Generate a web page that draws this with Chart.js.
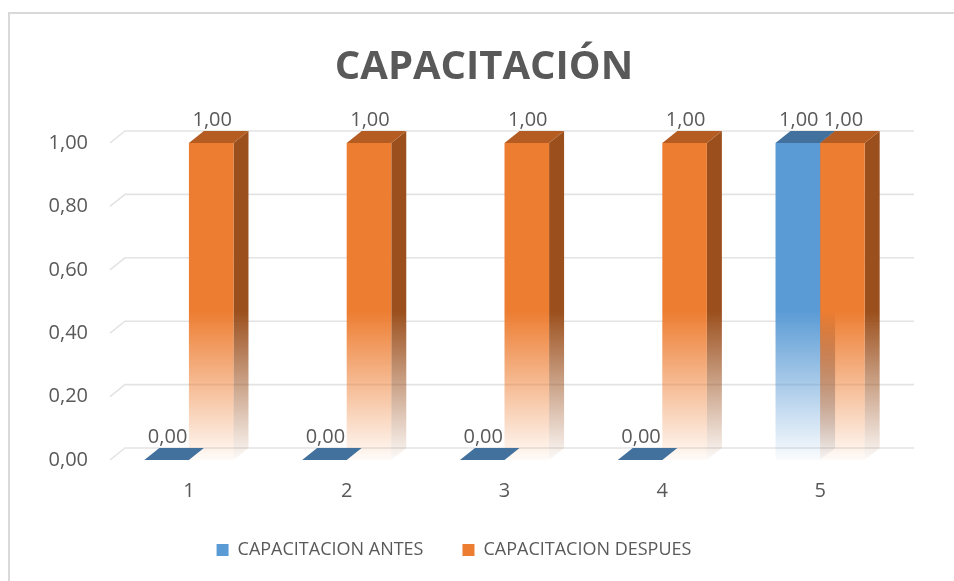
<!DOCTYPE html>
<html>
<head>
<meta charset="utf-8">
<script src="https://cdn.jsdelivr.net/npm/chart.js@4.4.1/dist/chart.umd.min.js"></script>
<style>
  html, body { margin: 0; padding: 0; background: #fff; }
  #wrap { position: relative; width: 954px; height: 581px; overflow: hidden; }
  #frame { position: absolute; left: 8px; top: 12px; width: 1000px; height: 1000px;
           border-top: 2px solid #d9d9d9; border-left: 2px solid #d9d9d9; pointer-events: none; }
  canvas { position: absolute; left: 0; top: 0; }
</style>
</head>
<body>
<div id="wrap">
  <canvas id="chart" width="954" height="581"></canvas>
  <div id="frame"></div>
</div>
<script>
// chart data
const categories = ['1', '2', '3', '4', '5'];
const seriesNames = ['CAPACITACION ANTES', 'CAPACITACION DESPUES'];
const antes = [0, 0, 0, 0, 1];
const despues = [1, 1, 1, 1, 1];
const yMin = 0;
const yMax = 1;
const yStep = 0.2;

const textColor = '#595959';
const fontFamily = '"Open Sans", "Noto Sans", sans-serif';
const depth = { x: 15, y: 12 };
const titleCenterX = 484;   // title and legend are not centred on the same line in the original
const legendCenterX = 454;
const legendTop = 502;
const legendPadding = 39;

// front / top / side colours per series
const palette = [
    { front: [91, 155, 213], top: [65, 113, 156], side: [58, 98, 138] },
    { front: [237, 125, 49], top: [181, 92, 35], side: [155, 79, 28] }
];

function rgba(c, a) {
    return 'rgba(' + c[0] + ',' + c[1] + ',' + c[2] + ',' + a + ')';
}

function fmt(v) {
    return v.toFixed(2).replace('.', ',');
}

// solid in the upper half, fading out towards the base
function fadeGradient(chart, c) {
    const y = chart.scales.y;
    const top = y.getPixelForValue(yMax);
    const base = y.getPixelForValue(yMin);
    const g = chart.ctx.createLinearGradient(0, top, 0, base);
    g.addColorStop(0, rgba(c, 1));
    g.addColorStop(0.53, rgba(c, 1));
    g.addColorStop(1, rgba(c, 0.03));
    return g;
}

function frontColor(index) {
    return function (ctx) {
        const c = palette[index].front;
        if (ctx.type !== 'data' || !ctx.chart.chartArea) return rgba(c, 1);
        return fadeGradient(ctx.chart, c);
    };
}

function barBox(bar) {
    const p = bar.getProps(['x', 'y', 'base', 'width'], true);
    return { left: p.x - p.width / 2, right: p.x + p.width / 2, x: p.x, y: p.y, base: p.base };
}

const bars3d = {
    id: 'bars3d',
    afterLayout(chart) {
        const shiftX = (box, cx) => {
            if (!box) return;
            const d = cx - (box.left + box.right) / 2;
            box.left += d;
            box.right += d;
        };
        shiftX(chart.titleBlock, titleCenterX);
        shiftX(chart.legend, legendCenterX);
        if (chart.legend) {
            const d = legendTop - chart.legend.top;
            chart.legend.top += d;
            chart.legend.bottom += d;
        }
    },
    beforeDatasetsDraw(chart) {
        const ctx = chart.ctx;
        const area = chart.chartArea;
        const ys = chart.scales.y;

        // gridlines sit on the back wall, with a short slanted floor edge on the left
        ctx.save();
        ctx.strokeStyle = '#e3e3e3';
        ctx.lineWidth = 1.6;
        ys.ticks.forEach(t => {
            const py = ys.getPixelForValue(t.value);
            ctx.beginPath();
            ctx.moveTo(area.left, py);
            ctx.lineTo(area.left + depth.x, py - depth.y);
            ctx.lineTo(area.right + depth.x, py - depth.y);
            ctx.stroke();
        });

        // side faces
        chart.data.datasets.forEach((ds, i) => {
            const grad = fadeGradient(chart, palette[i].side);
            chart.getDatasetMeta(i).data.forEach(bar => {
                const b = barBox(bar);
                if (b.base - b.y < 0.5) return;
                ctx.beginPath();
                ctx.moveTo(b.right, b.y);
                ctx.lineTo(b.right + depth.x, b.y - depth.y);
                ctx.lineTo(b.right + depth.x, b.base - depth.y);
                ctx.lineTo(b.right, b.base);
                ctx.closePath();
                ctx.fillStyle = grad;
                ctx.fill();
            });
        });
        ctx.restore();
    },
    afterDatasetsDraw(chart) {
        const ctx = chart.ctx;
        ctx.save();

        // top faces
        chart.data.datasets.forEach((ds, i) => {
            chart.getDatasetMeta(i).data.forEach(bar => {
                const b = barBox(bar);
                ctx.beginPath();
                ctx.moveTo(b.left, b.y);
                ctx.lineTo(b.right, b.y);
                ctx.lineTo(b.right + depth.x, b.y - depth.y);
                ctx.lineTo(b.left + depth.x, b.y - depth.y);
                ctx.closePath();
                ctx.fillStyle = rgba(palette[i].top, 1);
                ctx.fill();
            });
        });

        // value labels
        ctx.fillStyle = textColor;
        ctx.font = '20px ' + fontFamily;
        ctx.textAlign = 'center';
        ctx.textBaseline = 'bottom';
        chart.data.datasets.forEach((ds, i) => {
            chart.getDatasetMeta(i).data.forEach((bar, j) => {
                const b = barBox(bar);
                ctx.fillText(fmt(ds.data[j]), b.x + 1, b.y - depth.y - 1);
            });
        });
        ctx.restore();
    }
};

const config = {
    type: 'bar',
    data: {
        labels: categories,
        datasets: [
            { label: seriesNames[0], data: antes, backgroundColor: frontColor(0), borderWidth: 0 },
            { label: seriesNames[1], data: despues, backgroundColor: frontColor(1), borderWidth: 0 }
        ]
    },
    options: {
        responsive: false,
        animation: false,
        events: [],
        layout: { padding: { left: 0, right: 55, top: 0, bottom: -17 } },
        datasets: {
            bar: { categoryPercentage: 0.565, barPercentage: 1 }
        },
        scales: {
            x: {
                grid: { display: false, drawTicks: false },
                border: { display: false },
                ticks: { color: textColor, font: { family: fontFamily, size: 20 }, padding: 19 },
                afterFit(scale) { scale.height = 71; }
            },
            y: {
                min: yMin,
                max: yMax,
                grid: { display: false, drawTicks: false },
                border: { display: false },
                ticks: {
                    stepSize: yStep,
                    color: textColor,
                    font: { family: fontFamily, size: 20 },
                    padding: 22,
                    callback: v => fmt(v)
                },
                afterFit(scale) { scale.width = 110; }
            }
        },
        plugins: {
            title: {
                display: true,
                text: 'CAPACITACIÓN',
                color: textColor,
                font: { family: fontFamily, size: 40, weight: 'bold' },
                padding: { top: 44, bottom: 51 }
            },
            legend: {
                position: 'bottom',
                labels: {
                    color: textColor,
                    font: { family: fontFamily, size: 18 },
                    boxWidth: 12,
                    boxHeight: 12,
                    padding: legendPadding,
                    generateLabels(chart) {
                        const items = Chart.defaults.plugins.legend.labels.generateLabels(chart);
                        items.forEach(item => {
                            const c = rgba(palette[item.datasetIndex].front, 1);
                            item.fillStyle = c;
                            item.strokeStyle = c;
                            item.lineWidth = 0;
                        });
                        return items;
                    }
                }
            },
            tooltip: { enabled: false }
        }
    },
    plugins: [bars3d]
};

new Chart(document.getElementById('chart'), config);
</script>
</body>
</html>
